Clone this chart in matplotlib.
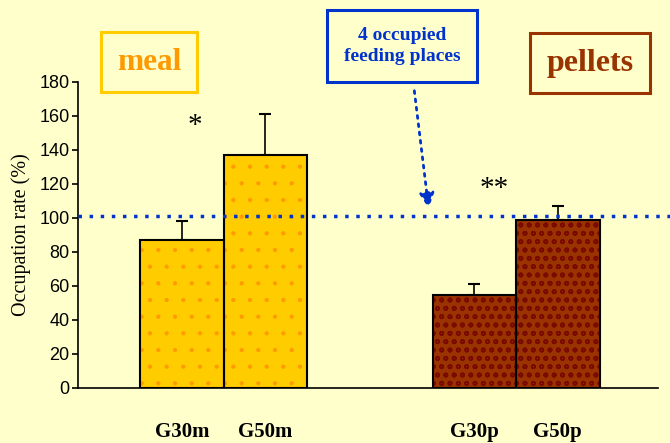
import matplotlib
matplotlib.use("Agg")
import matplotlib.pyplot as plt

groups = ["G30m", "G50m", "G30p", "G50p"]
rates = [87, 137, 55, 99]
errors = [11, 24, 6, 8]
positions = [0, 1, 3.5, 4.5]
ref_line = 101

bg = "#FFFFCC"

fig = plt.figure(figsize=(6.7, 4.43), dpi=100, facecolor=bg)
ax = fig.add_axes([78 / 670, 1 - 388 / 443, 580 / 670, 306 / 443], facecolor=bg)

fills = ["#FFCC00", "#FFCC00", "#993300", "#993300"]
hatch_cols = ["#FF9900", "#FF9900", "#7A0A00", "#7A0A00"]
hatches = [".", ".", "oo", "oo"]
hatch_lw = [0.6, 0.6, 1.2, 1.2]
for x, v, e, fc, hc, h, hl in zip(positions, rates, errors, fills, hatch_cols, hatches, hatch_lw):
    plt.rcParams["hatch.linewidth"] = hl
    ax.bar(x, v, width=1.0, color=fc, edgecolor=hc, hatch=h, linewidth=0, zorder=2)
    ax.bar(x, v, width=1.0, fill=False, edgecolor="black", linewidth=1.5, zorder=3)
    ax.errorbar(x, v, yerr=[[0], [e]], fmt="none", ecolor="black", elinewidth=1.2,
                capsize=4.5, capthick=1.5, zorder=1)

ax.set_xlim(-1.245, 5.70)
ax.set_ylim(0, 180)
ax.set_yticks(range(0, 181, 20))
ax.set_xticks([])
for s in ["top", "right"]:
    ax.spines[s].set_visible(False)
ax.spines["left"].set_linewidth(1.2)
ax.spines["bottom"].set_linewidth(1.2)
ax.tick_params(axis="y", labelsize=13, length=4, width=1.2, pad=2)
for lab in ax.get_yticklabels():
    lab.set_family("Liberation Sans")
ax.set_ylabel("Occupation rate (%)", family="Liberation Serif", fontsize=14.5, labelpad=6)

# reference line
ax.axhline(ref_line, color="#0033CC", linestyle=(0, (1, 2.2)), linewidth=2.5,
           xmin=0, xmax=1.02, clip_on=False, zorder=4)

# group labels
for x, g in zip(positions, groups):
    ax.text(x, -26, g, ha="center", va="center", family="Liberation Serif",
            fontweight="bold", fontsize=15)

# significance marks
ax.text(0.156, 154, "*", ha="center", va="center", family="Liberation Serif", fontsize=21)
ax.text(3.737, 117, "**", ha="center", va="center", family="Liberation Serif", fontsize=21)

# boxes
fig.text(149 / 670, 1 - 62 / 443, "meal", ha="center", va="center",
         family="Liberation Serif", fontweight="bold", fontsize=22.5, color="#FF9900",
         bbox=dict(boxstyle="square,pad=0.5", fc=bg, ec="#FFCC00", lw=2.2))
fig.text(590 / 670, 1 - 63 / 443, "pellets", ha="center", va="center",
         family="Liberation Serif", fontweight="bold", fontsize=23, color="#993300",
         bbox=dict(boxstyle="square,pad=0.5", fc=bg, ec="#993300", lw=2.2))
fig.text(402 / 670, 1 - 46 / 443, "4 occupied\nfeeding places", ha="center", va="center",
         family="Liberation Serif", fontweight="bold", fontsize=14, color="#0033CC",
         linespacing=1.35,
         bbox=dict(boxstyle="square,pad=0.85", fc=bg, ec="#0033CC", lw=2.2))

fig.add_artist(matplotlib.patches.FancyArrowPatch(
    (414 / 670, 1 - 88 / 443), (429 / 670, 1 - 211 / 443), transform=fig.transFigure,
    arrowstyle="-|>,head_length=6,head_width=3", color="#0033CC",
    linestyle=(0, (1, 2)), linewidth=2, mutation_scale=1.5))

fig.savefig("out.png", dpi=100, facecolor=bg)
